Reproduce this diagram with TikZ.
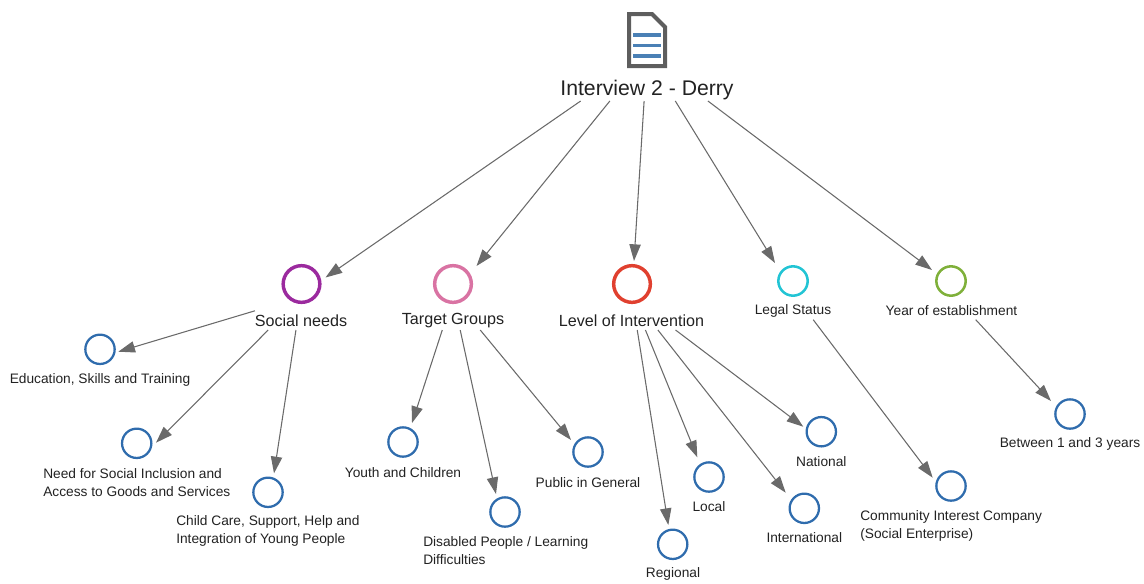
\documentclass[tikz,border=0pt]{standalone}
\usepackage{fontspec}
\setmainfont{Liberation Sans}
\usetikzlibrary{arrows.meta,calc}
\definecolor{ink}{HTML}{222222}
\definecolor{edgegrey}{HTML}{6A6A6A}
\definecolor{docgrey}{HTML}{5E5E5E}
\definecolor{docblue}{HTML}{4A80B5}
\definecolor{cpurple}{HTML}{9B2A9E}
\definecolor{cpink}{HTML}{D973A3}
\definecolor{cred}{HTML}{E0402F}
\definecolor{ccyan}{HTML}{22C4D4}
\definecolor{cgreen}{HTML}{7FB03A}
\definecolor{cblue}{HTML}{2F6CAD}
\tikzset{
  groupbox/.style={rectangle,inner sep=0pt,outer sep=0pt,minimum width=#1},
  big/.style={circle,draw=#1,line width=2.6pt,inner sep=0pt,outer sep=0pt,minimum size=27.5pt},
  mid/.style={circle,draw=#1,line width=1.9pt,inner sep=0pt,outer sep=0pt,minimum size=22pt},
  small/.style={circle,draw=cblue,line width=1.7pt,inner sep=0pt,outer sep=0pt,minimum size=22pt},
  rootlab/.style={font=\fontsize{15.9pt}{18pt}\selectfont,text=ink,inner sep=0pt},
  midlab/.style={font=\fontsize{12.1pt}{14pt}\selectfont,text=ink,inner sep=0pt},
  smalllab/.style={font=\fontsize{10.3pt}{13.5pt}\selectfont,text=ink,inner sep=0pt,align=left},
  edge/.style={draw=edgegrey,line width=0.8pt,-{Triangle[length=12.5pt,width=8.5pt,fill=edgegrey]}},
}
\begin{document}
\begin{tikzpicture}[x=0.75pt,y=-0.75pt]
\useasboundingbox (0,0) rectangle (1144,583);
% root
\node[groupbox=150pt,minimum height=69pt] (root) at (647,55) {};
\node[rootlab] (rootlabel) at (647,90) {Interview 2 - Derry};
\draw[docgrey,line width=3pt,line join=miter] (629,14) -- (652,14) -- (665,27) -- (665,66) -- (629,66) -- cycle;
\draw[docblue,line width=2.3pt] (633,35) -- (660.5,35) (633,45.5) -- (660.5,45.5) (633,56) -- (660.5,56);
% first level
\node[groupbox=69pt,minimum height=49.5pt] (gSocial) at (301,297) {};
\node[groupbox=76pt,minimum height=49.5pt] (gTarget) at (453,297) {};
\node[groupbox=110pt,minimum height=49.5pt] (gLevel) at (632,297) {};
\node[groupbox=57pt,minimum height=40pt] (gLegal) at (793,293) {};
\node[groupbox=99pt,minimum height=40pt] (gYear) at (951,293) {};
\node[big=cpurple] (cSocial) at (301.5,284) {};
\node[big=cpink] (cTarget) at (453,284) {};
\node[big=cred] (cLevel) at (632,284) {};
\node[mid=ccyan] (cLegal) at (793,281) {};
\node[mid=cgreen] (cYear) at (951,281) {};
\node[midlab] (lSocial) at (301,320.5) {Social needs};
\node[midlab] (lTarget) at (453,320.5) {Target Groups};
\node[midlab] (lLevel) at (631.5,320.5) {Level of Intervention};
\node[smalllab] (lLegal) at (793,311) {Legal Status};
\node[smalllab] (lYear) at (951.5,311) {Year of establishment};
% leaves
\node[small] (cEdu) at (100,349.3) {};
\node[smalllab] (lEdu) at (100,380) {Education, Skills and Training};
\node[small] (cNeed) at (136.7,443.3) {};
\node[smalllab,anchor=west] (lNeed) at (43,483) {Need for Social Inclusion and\\Access to Goods and Services};
\node[small] (cChild) at (268,492.3) {};
\node[smalllab,anchor=west] (lChild) at (176,531) {Child Care, Support, Help and\\Integration of Young People};
\node[small] (cYouth) at (403,442) {};
\node[smalllab] (lYouth) at (403,472.5) {Youth and Children};
\node[small] (cDis) at (505,512) {};
\node[smalllab,anchor=west] (lDis) at (423,551) {Disabled People / Learning\\Difficulties};
\node[small] (cPublic) at (588,452) {};
\node[smalllab] (lPublic) at (588,482.5) {Public in General};
\node[small] (cRegional) at (672.7,544.3) {};
\node[smalllab] (lRegional) at (673,574) {Regional};
\node[small] (cLocal) at (709,477) {};
\node[smalllab] (lLocal) at (709,507) {Local};
\node[small] (cInter) at (804.3,508.3) {};
\node[smalllab] (lInter) at (804.3,538) {International};
\node[small] (cNational) at (821.3,431.7) {};
\node[smalllab] (lNational) at (821.3,461.5) {National};
\node[small] (cCommunity) at (951,486) {};
\node[smalllab,anchor=west] (lCommunity) at (860,525.5) {Community Interest Company\\(Social Enterprise)};
\node[small] (cBetween) at (1070,414) {};
\node[smalllab] (lBetween) at (1070,444) {Between 1 and 3 years};
% connectors
\draw[edge] (root) -- ($(cSocial)+(24,-6.5)$);
\draw[edge] (root) -- ($(cTarget)+(23.5,-18)$);
\draw[edge] (root) -- ($(cLevel)+(2,-23)$);
\draw[edge] (root) -- ($(cLegal)+(-18,-18)$);
\draw[edge] (root) -- ($(cYear)+(-19,-11)$);
\draw[edge] (gSocial) -- ($(cEdu)+(18.3,2.4)$);
\draw[edge] (gSocial) -- ($(cNeed)+(19.3,-0.6)$);
\draw[edge] (gSocial) -- ($(cChild)+(6,-19)$);
\draw[edge] (gTarget) -- ($(cYouth)+(9,-19)$);
\draw[edge] (gTarget) -- ($(cDis)+(-9,-18)$);
\draw[edge] (gTarget) -- ($(cPublic)+(-17,-12)$);
\draw[edge] (gLevel) -- ($(cRegional)+(-4.4,-19.3)$);
\draw[edge] (gLevel) -- ($(cLocal)+(-11.7,-19.7)$);
\draw[edge] (gLevel) -- ($(cInter)+(-18.6,-15.6)$);
\draw[edge] (gLevel) -- ($(cNational)+(-18,-5)$);
\draw[edge] (gLegal) -- ($(cCommunity)+(-18.3,-8.3)$);
\draw[edge] (gYear) -- ($(cBetween)+(-19,-13)$);
\end{tikzpicture}
\end{document}
